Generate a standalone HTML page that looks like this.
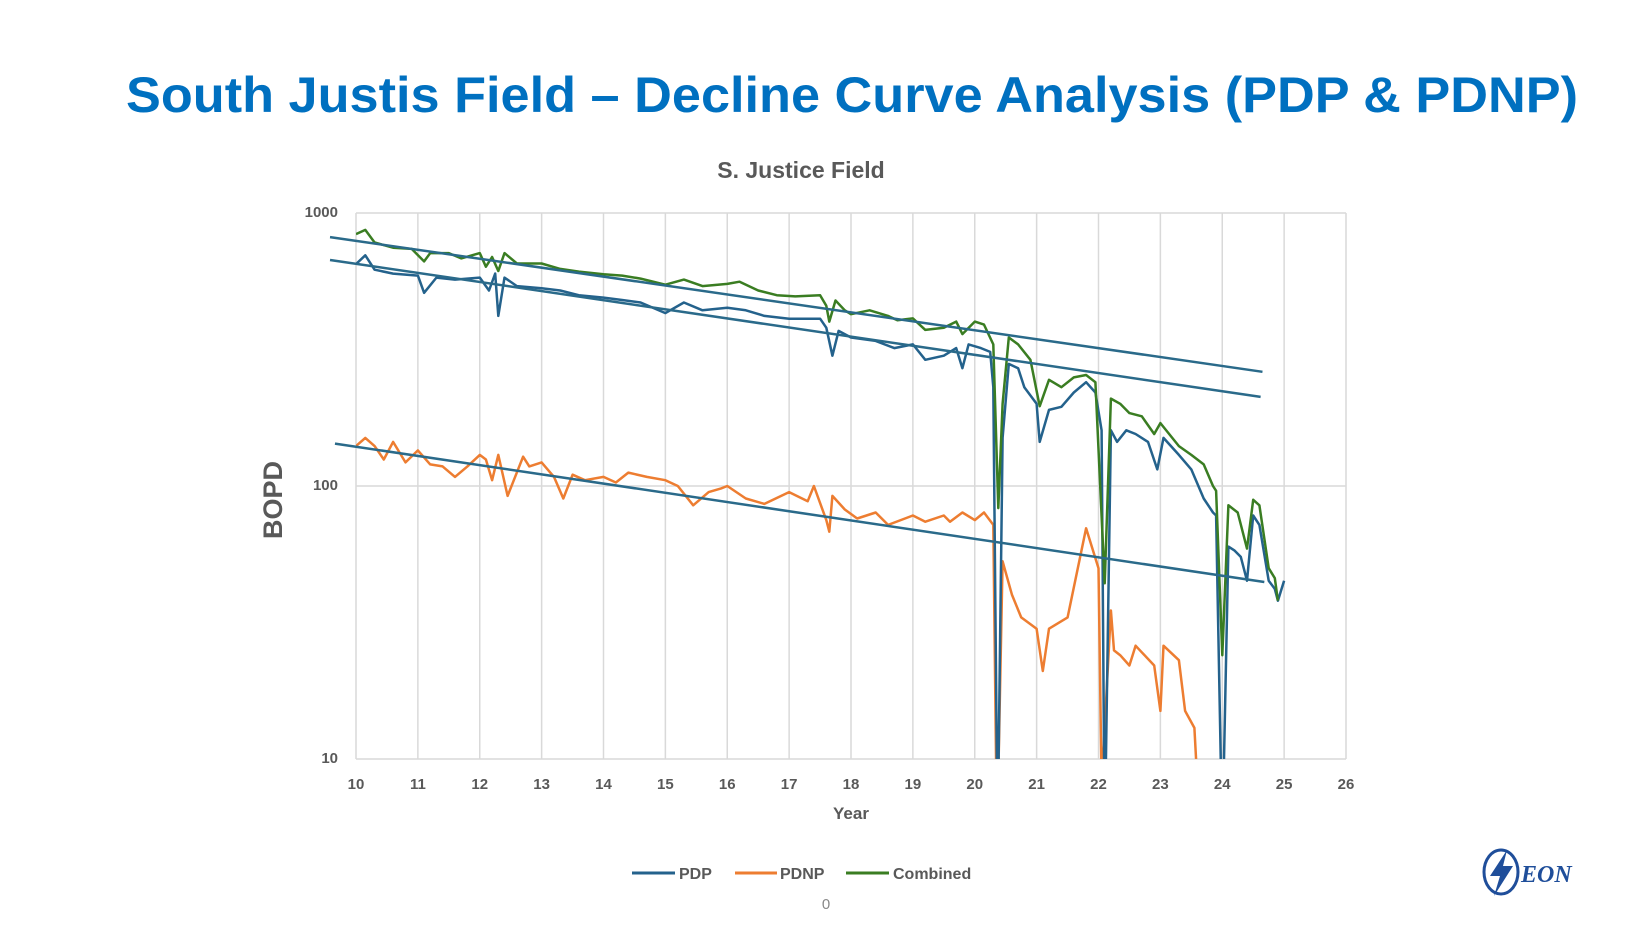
<!DOCTYPE html>
<html><head><meta charset="utf-8"><style>
html,body{margin:0;padding:0;background:#fff;}
svg{display:block;font-family:"Liberation Sans",sans-serif;}
</style></head><body>
<svg id="chart" width="1650" height="928" viewBox="0 0 1650 928">
<text x="126" y="112" font-size="50" font-weight="bold" fill="#0070C0" textLength="1452" lengthAdjust="spacingAndGlyphs">South Justis Field – Decline Curve Analysis (PDP &amp; PDNP)</text>
<text x="801" y="178" font-size="23" font-weight="bold" fill="#595959" text-anchor="middle">S. Justice Field</text>
<text transform="translate(282,500) rotate(-90)" font-size="27" font-weight="bold" fill="#595959" text-anchor="middle">BOPD</text>
<text x="851" y="819" font-size="17" font-weight="bold" fill="#595959" text-anchor="middle">Year</text>
<g id="grid"></g>
<g id="ticks"></g>
<defs><clipPath id="pc"><rect x="356" y="213" width="990" height="546"/></clipPath></defs>
<g id="series" clip-path="url(#pc)"></g>
<g>
<line x1="632" y1="873" x2="675" y2="873" stroke="#24628C" stroke-width="3"/>
<text x="679" y="879" font-size="16" font-weight="bold" fill="#595959">PDP</text>
<line x1="735" y1="873" x2="777" y2="873" stroke="#ED7D31" stroke-width="3"/>
<text x="780" y="879" font-size="16" font-weight="bold" fill="#595959">PDNP</text>
<line x1="846" y1="873" x2="889" y2="873" stroke="#3A7D22" stroke-width="3"/>
<text x="893" y="879" font-size="16" font-weight="bold" fill="#595959">Combined</text>
</g>
<text x="826" y="909" font-size="15" fill="#888" text-anchor="middle">0</text>
<g>
<ellipse cx="1501" cy="872" rx="17" ry="22" fill="none" stroke="#1F4E9A" stroke-width="3"/>
<polygon points="1507,850 1490,876 1500,876 1494,896 1513,866 1503,866" fill="#1F4E9A"/>
<text x="1521" y="882" font-size="24" font-weight="bold" font-style="italic" fill="#1F4E9A" font-family="Liberation Serif, serif">EON</text>
</g>
</svg>
<script>
const xTicks=[10,11,12,13,14,15,16,17,18,19,20,21,22,23,24,25,26];
const yTicks=[10,100,1000];
const pdpX=[10.0,10.15,10.3,10.6,11.0,11.1,11.3,11.6,12.0,12.15,12.25,12.3,12.4,12.6,13.0,13.3,13.6,14.0,14.3,14.6,15.0,15.3,15.6,16.0,16.3,16.6,17.0,17.5,17.6,17.7,17.8,18.0,18.4,18.7,19.0,19.2,19.5,19.7,19.8,19.9,20.1,20.25,20.3,20.37,20.45,20.55,20.7,20.8,21.0,21.05,21.2,21.4,21.6,21.8,21.95,22.05,22.1,22.2,22.3,22.45,22.6,22.8,22.95,23.05,23.3,23.5,23.7,23.85,23.9,24.0,24.1,24.2,24.3,24.4,24.5,24.6,24.75,24.85,24.9,25.0];
const pdpY=[650,700,620,600,590,510,580,570,580,520,600,420,580,540,530,520,500,490,480,470,430,470,440,450,440,420,410,410,380,300,370,350,340,320,330,290,300,320,270,330,320,310,230,5,150,280,270,230,200,145,190,195,220,240,220,160,5,160,145,160,155,145,115,150,130,115,90,80,78,5,60,58,55,45,78,72,45,42,38,45];
const pdnpX=[10.0,10.15,10.3,10.45,10.6,10.8,11.0,11.2,11.4,11.6,11.8,12.0,12.1,12.2,12.3,12.45,12.7,12.8,13.0,13.2,13.35,13.5,13.7,14.0,14.2,14.4,14.7,15.0,15.2,15.45,15.7,15.9,16.0,16.3,16.6,17.0,17.3,17.4,17.6,17.65,17.7,17.9,18.1,18.4,18.6,19.0,19.2,19.5,19.6,19.8,20.0,20.15,20.3,20.36,20.45,20.6,20.75,21.0,21.1,21.2,21.5,21.8,22.0,22.05,22.2,22.25,22.35,22.5,22.6,22.9,23.0,23.05,23.3,23.4,23.55,23.6];
const pdnpY=[140,150,140,125,145,122,135,120,118,108,118,130,125,105,130,92,128,118,122,108,90,110,105,108,103,112,108,105,100,85,95,98,100,90,86,95,88,100,75,68,92,82,76,80,72,78,74,78,74,80,75,80,72,5,53,40,33,30,21,30,33,70,50,8,35,25,24,22,26,22,15,26,23,15,13,8];
const combX=[10.0,10.15,10.3,10.6,10.9,11.1,11.2,11.5,11.7,12.0,12.1,12.2,12.3,12.4,12.6,13.0,13.3,13.6,14.0,14.3,14.6,15.0,15.3,15.6,16.0,16.2,16.5,16.8,17.1,17.5,17.6,17.65,17.75,17.9,18.0,18.3,18.6,18.75,19.0,19.2,19.5,19.7,19.8,20.0,20.15,20.3,20.38,20.45,20.55,20.7,20.9,21.05,21.2,21.4,21.6,21.8,21.95,22.1,22.2,22.35,22.5,22.7,22.9,23.0,23.3,23.5,23.7,23.85,23.9,24.0,24.1,24.25,24.4,24.5,24.6,24.75,24.85,24.9];
const combY=[837,867,780,746,739,665,713,713,682,713,636,690,613,713,653,653,624,610,597,590,575,546,570,540,550,560,520,500,495,500,457,400,478,440,426,440,420,405,411,373,380,400,360,400,390,330,83,200,350,330,290,196,245,230,250,255,240,44,209,200,185,180,155,170,140,130,120,100,96,24,85,80,59,89,85,50,46,38];
const trendX=[[9.58,24.65],[9.58,24.62],[9.66,24.68]];
const trendY=[[816,262],[673,212],[143,44.5]];
const trendNames=['trend-combined','trend-pdp','trend-pdnp'];
const L=356,R=1346,T=213,B=759;
function xs(v){return L+(v-10)/16*(R-L);}
function ys(v){return T+(3-Math.log10(v))/2*(B-T);}
const NS='http://www.w3.org/2000/svg';
const grid=document.getElementById('grid'),ticks=document.getElementById('ticks'),series=document.getElementById('series');
xTicks.forEach(t=>{
 const l=document.createElementNS(NS,'line');
 
 
 l.setAttribute('x1',xs(t));l.setAttribute('x2',xs(t));l.setAttribute('y1',T);l.setAttribute('y2',B);
 l.setAttribute('stroke','#D9D9D9');l.setAttribute('stroke-width','1.5');grid.appendChild(l);
 const tx=document.createElementNS(NS,'text');
 
 
 tx.setAttribute('x',xs(t));tx.setAttribute('y',789);tx.setAttribute('text-anchor','middle');
 tx.setAttribute('font-size','15');tx.setAttribute('font-weight','bold');tx.setAttribute('fill','#595959');
 tx.textContent=t;ticks.appendChild(tx);
});
yTicks.forEach(t=>{
 const l=document.createElementNS(NS,'line');
 
 
 l.setAttribute('x1',L);l.setAttribute('x2',R);l.setAttribute('y1',ys(t));l.setAttribute('y2',ys(t));
 l.setAttribute('stroke','#D9D9D9');l.setAttribute('stroke-width','1.5');grid.appendChild(l);
 const tx=document.createElementNS(NS,'text');
 
 
 tx.setAttribute('x',338);tx.setAttribute('y',ys(t)+4);tx.setAttribute('text-anchor','end');
 tx.setAttribute('font-size','15');tx.setAttribute('font-weight','bold');tx.setAttribute('fill','#595959');
 tx.textContent=t;ticks.appendChild(tx);
});
function line(X,Y,color,name,w){
 const p=document.createElementNS(NS,'polyline');
 
 
 p.setAttribute('points',X.map((x,i)=>xs(x).toFixed(1)+','+ys(Y[i]).toFixed(1)).join(' '));
 p.setAttribute('fill','none');p.setAttribute('stroke',color);p.setAttribute('stroke-width',w);
 p.setAttribute('stroke-linejoin','round');series.appendChild(p);
}
line(pdnpX,pdnpY,'#ED7D31','pdnp-line',2.5);
line(pdpX,pdpY,'#24628C','pdp-line',2.5);
line(combX,combY,'#3A7D22','combined-line',2.5);
const svg=document.getElementById('chart');
trendX.forEach((X,i)=>{
 const p=document.createElementNS(NS,'line');
 
 
 p.setAttribute('x1',xs(X[0]));p.setAttribute('x2',xs(X[1]));
 p.setAttribute('y1',ys(trendY[i][0]));p.setAttribute('y2',ys(trendY[i][1]));
 p.setAttribute('stroke','#2A6A8A');p.setAttribute('stroke-width','2.5');svg.appendChild(p);
});
</script>
</body></html>
